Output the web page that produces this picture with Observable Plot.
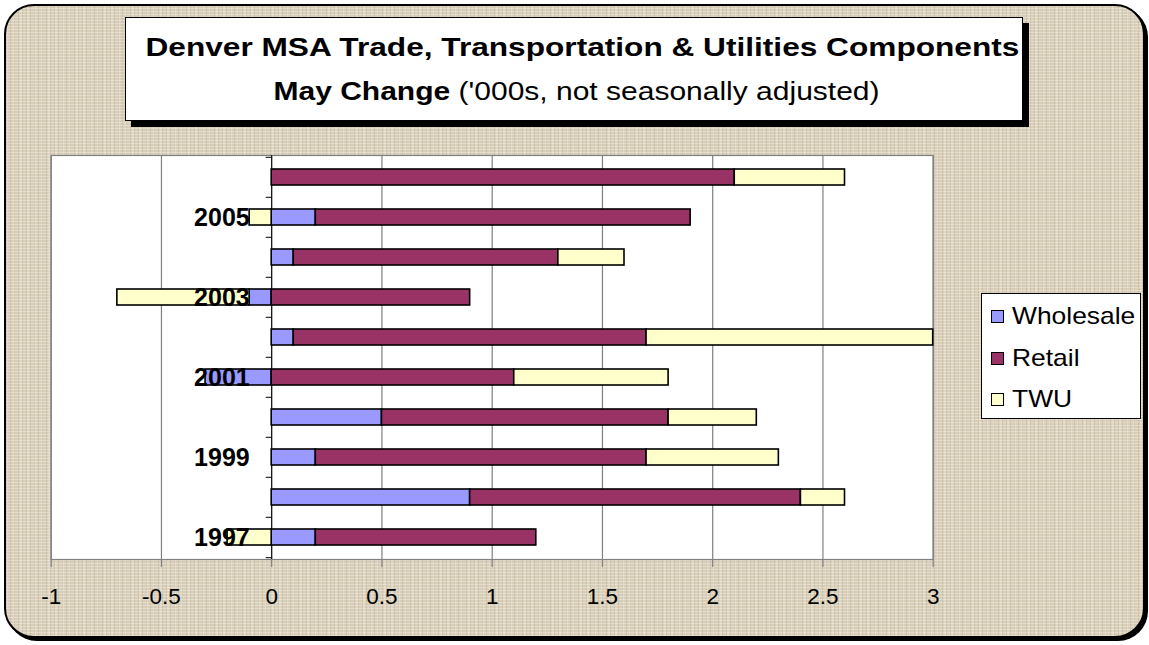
<!DOCTYPE html>
<html>
<head>
<meta charset="utf-8">
<script src="https://cdn.jsdelivr.net/npm/d3@7"></script>
<script src="https://cdn.jsdelivr.net/npm/@observablehq/plot@0.6"></script>
<style>
  html, body { margin: 0; padding: 0; background: #ffffff; }
  #wrap { position: relative; width: 1149px; height: 645px; overflow: hidden; font-family: "Liberation Sans", Arial, sans-serif; }
  #frame {
    position: absolute; left: 4px; top: 4px; width: 1137px; height: 630px;
    border: 2px solid #000; border-radius: 30px;
    box-shadow: 3px 3px 0 #000;
    background-color: #d9cfb8;
    background-image:
      repeating-linear-gradient(0deg, rgba(255,255,255,0.28) 0 1px, transparent 1px 3px),
      repeating-linear-gradient(90deg, rgba(110,90,60,0.13) 0 1px, transparent 1px 4px),
      repeating-linear-gradient(90deg, rgba(255,255,255,0.18) 0 2px, transparent 2px 7px);
  }
  #chart { position: absolute; left: 0; top: 0; }
  #title {
    position: absolute; left: 125px; top: 17px; width: 896px; height: 102px;
    background: #fff; border: 1px solid #000; box-shadow: 6px 6px 0 #000;
    text-align: center; color: #000;
  }
  #title .l1, #title .l2 { position: absolute; left: 0; right: 0; font-size: 25px; white-space: nowrap; }
  #title .l1 { top: 15px; font-weight: bold; }
  #title .l2 { top: 59px; }
  #title span.s { display: inline-block; transform-origin: center; }
  #legend {
    position: absolute; left: 981px; top: 293px; width: 158px; height: 124px;
    background: #fff; border: 1px solid #000;
  }
  .item { position: absolute; left: 9px; line-height: 24px; color: #000; white-space: nowrap; }
  .item .t { display: inline-block; font-size: 24px; transform: scaleX(1.1); transform-origin: left center; }
  .sw { display: inline-block; width: 11px; height: 11px; border: 1px solid #000; margin-right: 8px; vertical-align: 1px; }
</style>
</head>
<body>
<div id="wrap">
  <div id="frame"></div>
  <div id="chart"></div>
  <div id="title">
    <div class="l1"><span class="s" style="margin-left:16px; transform: scaleX(1.265)">Denver MSA Trade, Transportation &amp; Utilities Components</span></div>
    <div class="l2"><span class="s" style="margin-left:6px; transform: scaleX(1.2)"><b>May Change</b> ('000s, not seasonally adjusted)</span></div>
  </div>
  <div id="legend"></div>
</div>
<script>
// ---- data ----
const years = [1997, 1998, 1999, 2000, 2001, 2002, 2003, 2004, 2005, 2006];
const wholesale = [0.2, 0.9, 0.2, 0.5, -0.3, 0.1, -0.1, 0.1, 0.2, 0.0];
const retail    = [1.0, 1.5, 1.5, 1.3, 1.1, 1.6, 0.9, 1.2, 1.7, 2.1];
const twu       = [-0.2, 0.2, 0.6, 0.4, 0.7, 1.3, -0.6, 0.3, -0.1, 0.5];
const seriesNames = ["Wholesale", "Retail", "TWU"];
const seriesColors = ["#9999ff", "#993366", "#ffffcc"];
const labeledYears = [1997, 1999, 2001, 2003, 2005];
const xTicks = [-1, -0.5, 0, 0.5, 1, 1.5, 2, 2.5, 3];

const seriesValues = [wholesale, retail, twu];
const rows = [];
seriesNames.forEach((name, s) => {
  years.forEach((yr, i) => rows.push({year: yr, series: name, value: seriesValues[s][i]}));
});

const W = 1149, H = 645;
const mL = 50.7, mR = 216.3, mT = 155, mB = 86;
const step = (H - mT - mB) / years.length;

const chart = Plot.plot({
  width: W, height: H,
  marginLeft: mL, marginRight: mR, marginTop: mT, marginBottom: mB,
  style: {background: "transparent", fontFamily: "'Liberation Sans', Arial, sans-serif", color: "#000"},
  x: {domain: [-1, 3], label: null},
  y: {domain: years.slice().reverse(), paddingInner: 0.6, paddingOuter: 0.3, label: null, axis: null},
  color: {domain: seriesNames, range: seriesColors},
  marks: [
    Plot.frame({fill: "#fff", stroke: "#808080", strokeWidth: 1.2}),
    Plot.gridX(xTicks, {stroke: "#808080", strokeOpacity: 1, strokeWidth: 1.2}),
    Plot.ruleX([0], {stroke: "#000", strokeWidth: 1}),
    Plot.ruleY(years, {y: d => d, x1: -0.025, x2: 0, dy: -step / 2, stroke: "#000"}),
    Plot.ruleY([years[0]], {y: d => d, x1: -0.025, x2: 0, dy: step / 2, stroke: "#000"}),
    Plot.barX(rows, Plot.stackX({y: "year", x: "value", fill: "series", stroke: "#000", strokeWidth: 1.6})),
    Plot.axisX({ticks: xTicks, tickFormat: d => String(d), tickSize: 8, tickPadding: 21, fontSize: 22.5, stroke: "#808080", strokeWidth: 1.2, label: null}),
    Plot.text(labeledYears, {x: () => 0, y: d => d, text: d => String(d), textAnchor: "end", dx: -22, fontSize: 25, fontWeight: "bold", fill: "#000"})
  ]
});
document.getElementById("chart").appendChild(chart);

const legend = document.getElementById("legend");
seriesNames.forEach((name, i) => {
  const it = document.createElement("div");
  it.className = "item";
  it.style.top = (10 + i * 41.5) + "px";
  it.innerHTML = `<span class="sw" style="background:${seriesColors[i]}"></span><span class="t">${name}</span>`;
  legend.appendChild(it);
});
</script>
</body>
</html>
